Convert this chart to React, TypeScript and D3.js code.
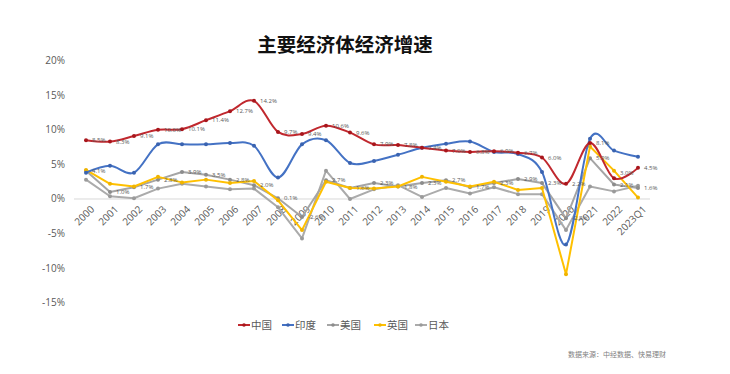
import React from "react";
import * as d3 from "d3";

const categories = ["2000","2001","2002","2003","2004","2005","2006","2007","2008","2009","2010","2011","2012","2013","2014","2015","2016","2017","2018","2019","2020","2021","2022","2023Q1"];
const china = [8.5,8.3,9.1,10.0,10.1,11.4,12.7,14.2,9.7,9.4,10.6,9.6,7.9,7.8,7.4,7.0,6.8,6.9,6.7,6.0,2.2,8.1,3.0,4.5];
const india = [3.8,4.8,3.8,7.9,7.9,7.9,8.1,7.7,3.1,7.9,8.5,5.2,5.5,6.4,7.4,8.0,8.3,6.8,6.5,3.9,-6.6,8.7,7.0,6.1];
const usa = [4.1,1.0,1.7,2.8,3.9,3.5,2.8,2.0,0.1,-2.6,2.7,1.6,2.3,1.8,2.3,2.7,1.7,2.3,2.9,2.3,-2.8,5.9,2.1,1.6];
const uk = [4.2,2.2,1.8,3.2,2.4,2.8,2.3,2.6,-0.2,-4.5,2.5,1.6,1.5,1.8,3.2,2.5,1.8,2.5,1.3,1.6,-10.9,7.6,4.1,0.2];
const japan = [2.8,0.4,0.1,1.5,2.2,1.8,1.4,1.5,-1.2,-5.7,4.1,0.0,1.4,2.0,0.3,1.6,0.8,1.7,0.7,0.7,-4.5,1.8,1.1,1.9];
const yTicks = [20,15,10,5,0,-5,-10,-15];
const seriesNames = ["中国","印度","美国","英国","日本"];
const title = "主要经济体经济增速";
const source = "数据来源：中经数据、快易理财";

const W = 730, H = 374;
const FONT = "'Noto Sans CJK SC', 'Noto Sans', sans-serif";
const NUMFONT = "'Open Sans', 'Noto Sans CJK SC', sans-serif";

export default function App() {
  const x = d3.scaleBand<string>().domain(categories).range([74, 650]);
  const cx = (c: string) => (x(c) as number) + x.bandwidth() / 2;
  const y = d3.scaleLinear().domain([-15, 20]).range([302.7, 60.7]);

  const series = [
    { name: seriesNames[0], data: china, color: "#C0282E", mark: "#A8161C", smooth: true },
    { name: seriesNames[1], data: india, color: "#4472C4", mark: "#3A63B0", smooth: true },
    { name: seriesNames[2], data: usa, color: "#A5A5A5", mark: "#8C8C8C", smooth: false },
    { name: seriesNames[3], data: uk, color: "#FFC000", mark: "#F0B400", smooth: false },
    { name: seriesNames[4], data: japan, color: "#ABABAB", mark: "#9A9A9A", smooth: false },
  ];
  const drawOrder = [4, 2, 3, 1, 0];
  const legendX = [238, 282, 327, 374, 415];
  // label vertical nudges (China series) to avoid collisions
  const nudge = (si: number, k: number) => (si === 0 && categories[k] === "2022" ? -5 : 0);

  return (
    <svg width={W} height={H} style={{ position: "absolute", left: 0, top: 0, background: "#fff" }}>
      <rect x={0} y={0} width={W} height={H} fill="#fff" />
      <text x={345} y={52} textAnchor="middle" fontFamily={FONT} fontWeight="bold" fontSize={19.5} fill="#111">{title}</text>
      {yTicks.map((t) => (
        <text key={t} x={65} y={y(t)} dy="0.35em" textAnchor="end" fontFamily={NUMFONT} fontSize={10} fill="#595959">{t}%</text>
      ))}
      <line x1={74} x2={650} y1={y(0)} y2={y(0)} stroke="#D9D9D9" strokeWidth={1} />
      {categories.map((c) => (
        <text key={c} transform={`translate(${cx(c) + 4},${y(0) + 6}) rotate(-45)`} textAnchor="end" dy="0.7em" fontFamily={NUMFONT} fontSize={10} fill="#595959">{c}</text>
      ))}
      {drawOrder.map((i) => {
        const s = series[i];
        const line = d3.line<number>()
          .x((_, k) => cx(categories[k]))
          .y((v) => y(v))
          .curve(s.smooth ? d3.curveCardinal.tension(0) : d3.curveLinear);
        return (
          <g key={s.name}>
            <path d={line(s.data) || ""} fill="none" stroke={s.color} strokeWidth={2} strokeLinejoin="round" />
            {s.data.map((v, k) => (
              <circle key={k} cx={cx(categories[k])} cy={y(v)} r={2} fill={s.mark} />
            ))}
          </g>
        );
      })}
      {[0, 2].map((i) => {
        const s = series[i];
        return (
          <g key={"lab" + i}>
            {s.data.map((v, k) => (
              <text key={k} x={cx(categories[k]) + 6} y={y(v) + nudge(i, k)} dy="0.35em" fontFamily={NUMFONT} fontSize={6} fill="#595959">{v.toFixed(1)}%</text>
            ))}
          </g>
        );
      })}
      {series.map((s, i) => (
        <g key={"lg" + i}>
          <line x1={legendX[i]} x2={legendX[i] + 12} y1={325} y2={325} stroke={s.color} strokeWidth={2} />
          <circle cx={legendX[i] + 6} cy={325} r={1.8} fill={s.mark} />
          <text x={legendX[i] + 13} y={325} dy="0.35em" fontFamily={FONT} fontSize={10.5} fill="#595959">{s.name}</text>
        </g>
      ))}
      <text x={568} y={355} dy="0.35em" fontFamily={FONT} fontSize={7} fill="#7F7F7F">{source}</text>
    </svg>
  );
}
